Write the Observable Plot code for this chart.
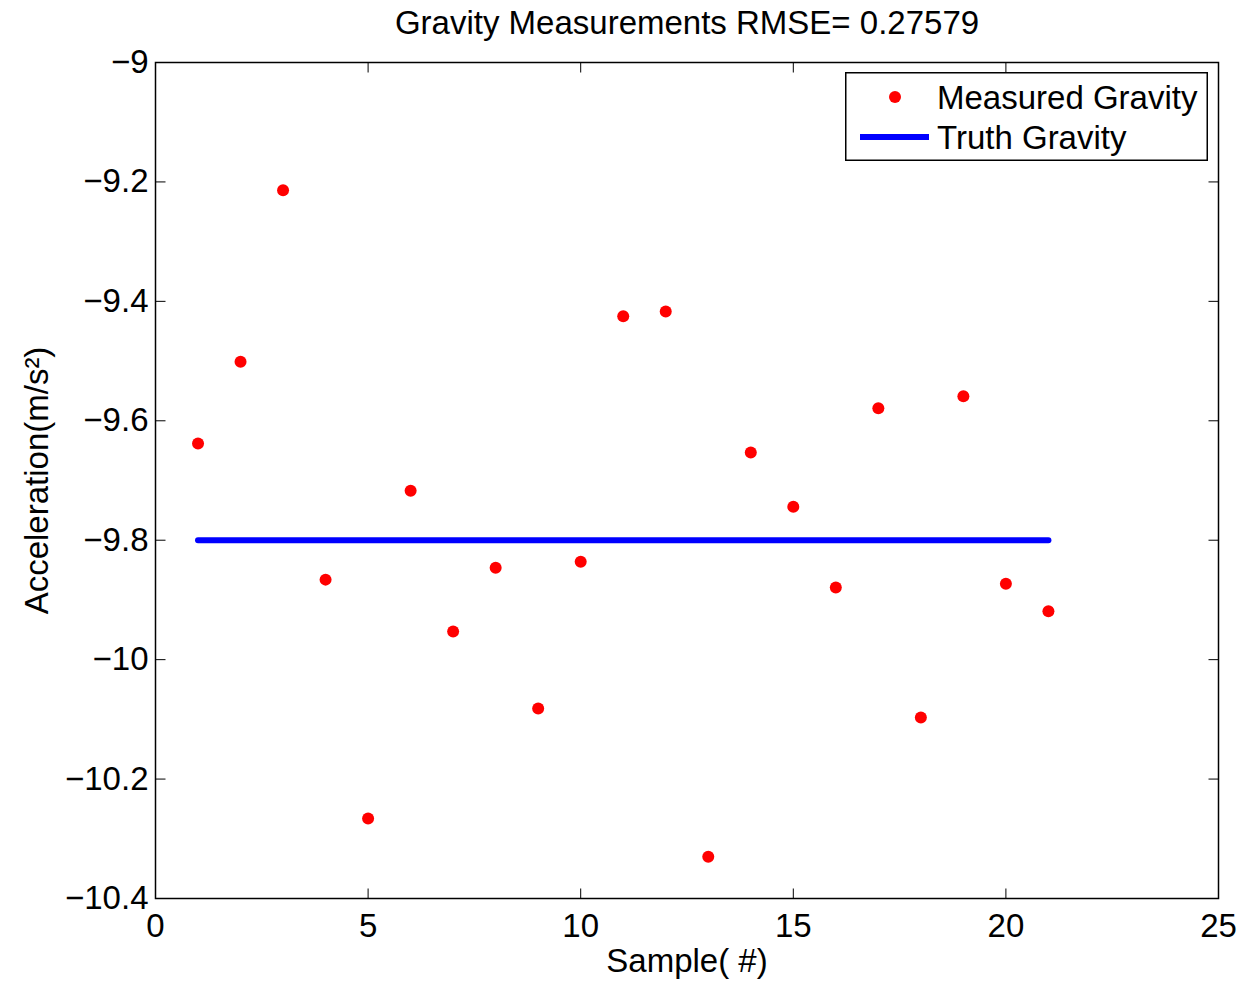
<!DOCTYPE html>
<html><head><meta charset="utf-8">
<script src="https://cdn.jsdelivr.net/npm/d3@7"></script>
<script src="https://cdn.jsdelivr.net/npm/@observablehq/plot@0.6"></script>
<style>
body{margin:0;background:#fff}
#wrap{position:relative;width:1250px;height:983px;font-family:"Liberation Sans",Arial,sans-serif}
#legend{position:absolute;left:845px;top:72px}
</style>
</head><body><div id="wrap"></div>
<script>
const titleText = "Gravity Measurements RMSE= 0.27579";
const xLabel = "Sample( #)";
const yLabel = "Acceleration(m/s²)";
const samples = [1,2,3,4,5,6,7,8,9,10,11,12,13,14,15,16,17,18,19,20,21];
const measured = [-9.638,-9.501,-9.214,-9.866,-10.266,-9.717,-9.953,-9.846,-10.082,-9.836,-9.425,-9.417,-10.330,-9.653,-9.744,-9.879,-9.579,-10.097,-9.559,-9.873,-9.919];
const truthValue = -9.8;
const xTicks = [0,5,10,15,20,25];
const yTicks = [-9,-9.2,-9.4,-9.6,-9.8,-10,-10.2,-10.4];
const seriesNames = ["Measured Gravity","Truth Gravity"];

const fs = 33;
const tickSym = (dx, dy) => ({draw(ctx){ctx.moveTo(0,0); ctx.lineTo(dx,dy);}});
const fmtY = d => String(+d.toFixed(1)).replace("-", "\u2212");

const chart = Plot.plot({
  width: 1250, height: 983,
  marginLeft: 155, marginRight: 32, marginTop: 62, marginBottom: 85,
  x: {domain: [0, 25]},
  y: {domain: [-10.4, -9]},
  style: {fontFamily: '"Liberation Sans", Arial, sans-serif', fontSize: fs + "px", color: "black", background: "white"},
  marks: [
    Plot.axisX({ticks: xTicks, tickSize: 0, tickPadding: 15, label: null, fontSize: fs}),
    Plot.axisY({ticks: yTicks, tickSize: 0, tickPadding: 7, label: null, fontSize: fs, tickFormat: fmtY}),
    Plot.dot(xTicks, {x: d => d, frameAnchor: "bottom", symbol: tickSym(0, -10), stroke: "black", strokeWidth: 1}),
    Plot.dot(xTicks, {x: d => d, frameAnchor: "top", symbol: tickSym(0, 10), stroke: "black", strokeWidth: 1}),
    Plot.dot(yTicks, {y: d => d, frameAnchor: "left", symbol: tickSym(10, 0), stroke: "black", strokeWidth: 1}),
    Plot.dot(yTicks, {y: d => d, frameAnchor: "right", symbol: tickSym(-10, 0), stroke: "black", strokeWidth: 1}),
    Plot.frame({stroke: "black", strokeWidth: 1.5}),
    Plot.dot(samples, {x: d => d, y: (d, i) => measured[i], r: 6, fill: "red"}),
    Plot.line(samples, {x: d => d, y: () => truthValue, stroke: "blue", strokeWidth: 6}),
    Plot.text([titleText], {text: d => d, frameAnchor: "top", lineAnchor: "middle", dy: -39, fontSize: fs}),
    Plot.text([xLabel], {text: d => d, frameAnchor: "bottom", lineAnchor: "middle", dy: 63, fontSize: fs}),
    Plot.text([yLabel], {text: d => d, frameAnchor: "left", textAnchor: "middle", lineAnchor: "middle", dx: -118, rotate: -90, fontSize: fs})
  ]
});
const wrap = document.getElementById("wrap");
wrap.appendChild(chart);

// legend
const lg = d3.select(wrap).append("svg").attr("id", "legend")
  .attr("width", 363).attr("height", 89)
  .style("font-family", '"Liberation Sans", Arial, sans-serif').style("font-size", fs + "px");
lg.append("rect").attr("x", 0.75).attr("y", 0.75).attr("width", 361.5).attr("height", 87.5)
  .attr("fill", "white").attr("stroke", "black").attr("stroke-width", 1.5);
lg.append("circle").attr("cx", 50).attr("cy", 25).attr("r", 6).attr("fill", "red");
lg.append("line").attr("x1", 15).attr("x2", 84).attr("y1", 65).attr("y2", 65)
  .attr("stroke", "blue").attr("stroke-width", 6);
lg.selectAll("text.lab").data(seriesNames).join("text")
  .attr("x", 92).attr("y", (d, i) => 25 + i * 40).attr("dy", "0.35em").text(d => d);
</script>
</body></html>
